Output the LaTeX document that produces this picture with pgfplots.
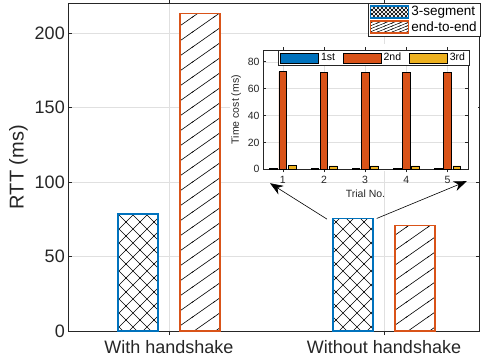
\documentclass[border=0pt]{standalone}
\usepackage{pgfplots}
\pgfplotsset{compat=1.18}
\usepackage{fontspec}
\setmainfont{Liberation Sans}
\usetikzlibrary{patterns,arrows.meta}
\definecolor{mblue}{RGB}{0,114,189}
\definecolor{morange}{RGB}{217,83,25}
\definecolor{myellow}{RGB}{237,177,32}
\definecolor{axgray}{RGB}{38,38,38}
\pgfdeclarepatternformonly{mycross}{\pgfqpoint{-1pt}{-1pt}}{\pgfqpoint{15pt}{15pt}}{\pgfqpoint{14pt}{14pt}}{%
  \pgfsetlinewidth{0.6pt}%
  \pgfpathmoveto{\pgfqpoint{-0.5pt}{-0.5pt}}\pgfpathlineto{\pgfqpoint{14.5pt}{14.5pt}}%
  \pgfpathmoveto{\pgfqpoint{-0.5pt}{14.5pt}}\pgfpathlineto{\pgfqpoint{14.5pt}{-0.5pt}}%
  \pgfusepath{stroke}}
\pgfdeclarepatternformonly{mycrosssmall}{\pgfqpoint{-1pt}{-1pt}}{\pgfqpoint{5pt}{5pt}}{\pgfqpoint{4pt}{4pt}}{%
  \pgfsetlinewidth{0.5pt}%
  \pgfpathmoveto{\pgfqpoint{-0.5pt}{-0.5pt}}\pgfpathlineto{\pgfqpoint{4.5pt}{4.5pt}}%
  \pgfpathmoveto{\pgfqpoint{-0.5pt}{4.5pt}}\pgfpathlineto{\pgfqpoint{4.5pt}{-0.5pt}}%
  \pgfusepath{stroke}}
% lines rising at about 35 degrees, vertical period 15pt
\pgfdeclarepatternformonly{myhatch}{\pgfqpoint{-1pt}{-1pt}}{\pgfqpoint{22.4pt}{16pt}}{\pgfqpoint{21.4pt}{15pt}}{%
  \pgfsetlinewidth{0.6pt}%
  \pgfpathmoveto{\pgfqpoint{-1.4pt}{-1pt}}\pgfpathlineto{\pgfqpoint{22.8pt}{16pt}}%
  \pgfusepath{stroke}}
% dense lines for the legend, about 22 degrees
\pgfdeclarepatternformonly{myhatchsmall}{\pgfqpoint{-1pt}{-1pt}}{\pgfqpoint{8.4pt}{4pt}}{\pgfqpoint{7.4pt}{3pt}}{%
  \pgfsetlinewidth{0.5pt}%
  \pgfpathmoveto{\pgfqpoint{-2.47pt}{-1pt}}\pgfpathlineto{\pgfqpoint{9.87pt}{4pt}}%
  \pgfusepath{stroke}}
\pgfplotsset{
  rectimg/.style={legend image code/.code={\draw[##1,line width=1.2pt] (0pt,-6pt) rectangle (38pt,6pt);}},
  rectimgsmall/.style={legend image code/.code={\draw[##1,line width=0.6pt] (0pt,-5pt) rectangle (38pt,5pt);}},
}
\begin{document}
\begin{tikzpicture}
\begin{axis}[
  at={(0pt,0pt)}, anchor=south west,
  scale only axis, width=411.2pt, height=327.7pt,
  xmin=0.532, xmax=2.444, ymin=0, ymax=220,
  xtick={1,2}, xticklabels={With handshake, Without handshake},
  ytick={0,50,100,150,200},
  grid=major, major grid style={black!12, line width=0.5pt},
  axis line style={axgray, line width=0.7pt},
  tick style={axgray, line width=0.6pt},
  tick align=inside, major tick length=4pt,
  /pgf/number format/assume math mode=true,
  ticklabel style={font=\fontsize{18}{20}\selectfont, color=axgray},
  xticklabel style={yshift=-2pt},
  ylabel={RTT (ms)}, ylabel style={font=\fontsize{20}{22}\selectfont, color=axgray},
  ybar, bar width=0.186,
  legend style={at={(1.0035,1.002)}, anchor=north east, font=\fontsize{13.5}{15}\selectfont,
    draw=axgray, line width=0.7pt, inner xsep=2pt, inner ysep=1.5pt, row sep=0pt,
    cells={anchor=west}},
]
\addplot[forget plot, draw=mblue, line width=1.5pt, fill=white, postaction={pattern=mycross}, bar shift=-0.144]
  coordinates {(1,78.5) (2,75.6)};
\addplot[forget plot, draw=morange, line width=1.5pt, fill=white,
  postaction={pattern=myhatch}, bar shift=0.144]
  coordinates {(1,213) (2,70.7)};
\addlegendimage{rectimg, draw=mblue, fill=white, postaction={pattern=mycrosssmall}}
\addlegendentry{3-segment}
\addlegendimage{rectimg, draw=morange, fill=white, postaction={pattern=myhatchsmall}}
\addlegendentry{end-to-end}
\draw[black, line width=0.6pt, -{Stealth[length=13pt,width=10pt]}] (axis cs:1.735,75.1) -- (axis cs:1.47,99.2);
\draw[black, line width=0.6pt, -{Stealth[length=13pt,width=10pt]}] (axis cs:1.966,75.55) -- (axis cs:2.385,100.6);
\end{axis}
\fill[white] (161.7pt,160pt) rectangle (409.7pt,287pt);
\begin{axis}[
  at={(194.7pt,161.7pt)}, anchor=south west,
  scale only axis, width=205pt, height=119.3pt,
  xmin=0.52, xmax=5.5, ymin=0, ymax=88.7,
  xtick={1,2,3,4,5}, ytick={0,20,40,60,80},
  axis background/.style={fill=white},
  grid=major, major grid style={black!12, line width=0.4pt},
  axis line style={axgray, line width=0.6pt},
  tick style={axgray, line width=0.5pt},
  tick align=inside, major tick length=3pt,
  /pgf/number format/assume math mode=true,
  ticklabel style={font=\fontsize{10.5}{12}\selectfont, color=axgray},
  xlabel={Trial No.}, ylabel={Time cost (ms)},
  label style={font=\fontsize{10.5}{12}\selectfont, color=axgray},
  ybar, bar width=0.186,
  legend columns=3,
  legend style={at={(1.006,1)}, anchor=north east, font=\fontsize{10.5}{12}\selectfont,
    draw=axgray, line width=0.6pt, inner xsep=2pt, inner ysep=1pt,
    /tikz/every even column/.append style={column sep=6pt}},
]
\addplot[rectimgsmall, fill=mblue, draw=black, line width=0.6pt, bar shift=-0.225]
  coordinates {(1,0.4) (2,0.4) (3,0.9) (4,0.4) (5,0.4)};
\addlegendentry{1st}
\addplot[rectimgsmall, fill=morange, draw=black, line width=0.6pt, bar shift=0]
  coordinates {(1,72.5) (2,72.2) (3,72.2) (4,72.2) (5,72.2)};
\addlegendentry{2nd}
\addplot[rectimgsmall, fill=myellow, draw=black, line width=0.6pt, bar shift=0.225]
  coordinates {(1,2.7) (2,2.5) (3,2.6) (4,2.5) (5,2.6)};
\addlegendentry{3rd}
\end{axis}
\pgfresetboundingbox
\path[use as bounding box] (-68.3pt,-31pt) rectangle (412.7pt,331pt);
\end{tikzpicture}
\end{document}
